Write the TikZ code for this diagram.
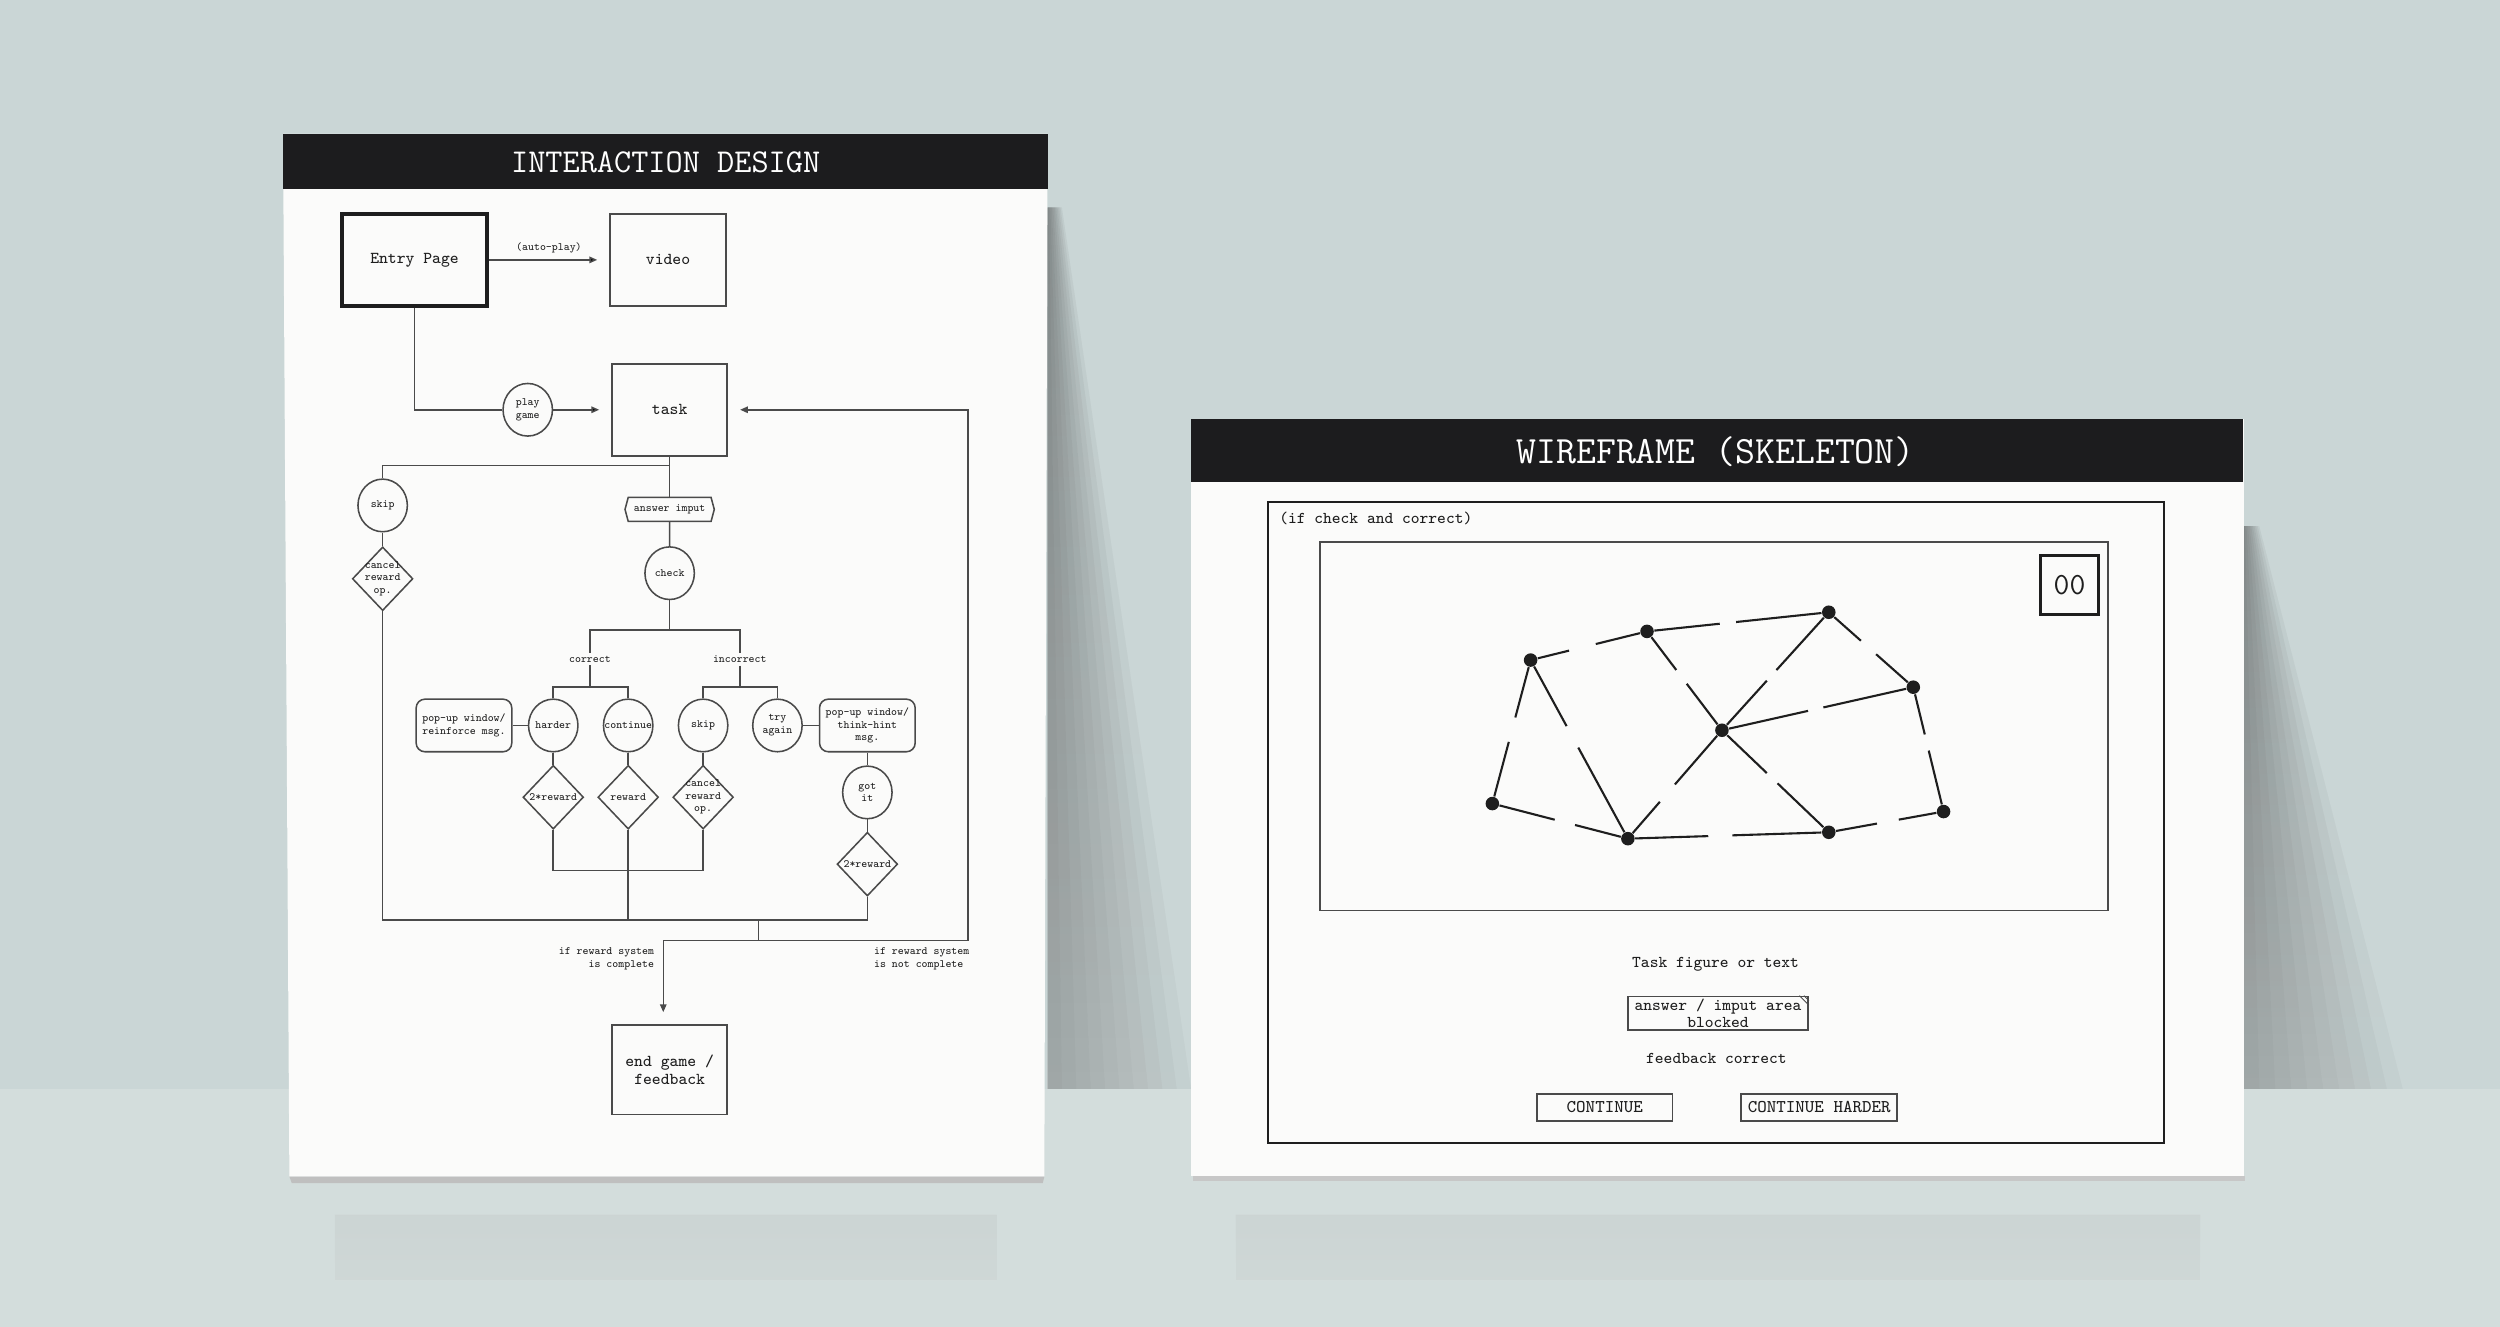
\documentclass[tikz,border=0pt]{standalone}
\usepackage{fontspec}
\usetikzlibrary{shapes.geometric,shapes.symbols,arrows.meta,calc}

\definecolor{wall}{HTML}{CAD6D6}
\definecolor{floor}{HTML}{D3DDDC}
\definecolor{shade}{HTML}{6F7F82}
\definecolor{paper}{HTML}{FBFBFA}
\definecolor{bar}{HTML}{1C1C1E}
\definecolor{ink}{HTML}{1E1E1E}
\definecolor{rule}{HTML}{4A4A4A}

\newcommand\headtxt{\ttfamily\fontsize{11.9}{13}\selectfont}
\newcommand\wireheadtxt{\ttfamily\fontsize{13.8}{15}\selectfont}
\newcommand\boxtxt{\ttfamily\fontsize{5.95}{6.5}\selectfont}
\newcommand\smalltxt{\ttfamily\fontsize{4}{4.5}\selectfont}
\newcommand\wiretxt{\ttfamily\fontsize{5.9}{6.3}\selectfont}
\newcommand\btntxt{\ttfamily\fontsize{6.4}{7}\selectfont}
\newcommand\countertxt{\ttfamily\fontsize{11}{12}\selectfont}

% one link of the task figure, broken between #3 and #4
\newcommand\gapedge[4]{\draw[wire] (#1) -- ($(#1)!#3!(#2)$) ($(#1)!#4!(#2)$) -- (#2);}

\tikzset{
	flow/.style={draw=rule, line width=0.55pt},
	arr/.style={flow, -{Triangle[length=2.8pt,width=2.3pt]}, shorten >=4.3pt},
	screen/.style={draw=rule, line width=0.7pt, fill=paper, minimum width=1.44cm, minimum height=1.16cm, inner sep=0pt, align=center, font=\boxtxt, text=ink},
	ring/.style={ellipse, draw=rule, line width=0.55pt, fill=paper, minimum width=0.62cm, minimum height=0.66cm, inner sep=0pt, label={[font=\smalltxt, text=ink, align=center]center:#1}},
	prize/.style={diamond, draw=rule, line width=0.55pt, fill=paper, minimum width=0.76cm, minimum height=0.8cm, inner sep=0pt, label={[font=\smalltxt, text=ink, align=center]center:#1}},
	popup/.style={rectangle, rounded corners=0.11cm, draw=rule, line width=0.55pt, fill=paper, minimum width=1.2cm, minimum height=0.66cm, inner sep=0pt, align=center, font=\smalltxt, text=ink},
	inputbox/.style={signal, signal to=west and east, signal pointer angle=150, draw=rule, line width=0.55pt, fill=paper, minimum width=1.12cm, minimum height=0.3cm, inner sep=1pt, font=\smalltxt, text=ink},
	note/.style={font=\smalltxt, text=ink, inner sep=0.8pt},
	dot/.style={circle, fill=ink, inner sep=0pt, minimum size=0.17cm},
	wire/.style={draw=ink, line width=0.75pt},
	wtext/.style={font=\wiretxt, text=ink, inner sep=0pt},
	btn/.style={draw=rule, line width=0.6pt, fill=paper, minimum height=0.34cm, inner sep=0pt, font=\btntxt, text=ink}
}

\begin{document}
\begin{tikzpicture}[x=0.02cm, y=-0.02cm]
	\useasboundingbox (0,0) rectangle (1568,832);
	% room
	\fill[wall] (0,0) rectangle (1568,683);
	\fill[floor] (0,683) rectangle (1568,832);
	\foreach \w in {9,18,...,90}
		\fill[shade, opacity=0.03] (657,130) -- (657+\w*0.1,130) -- (657+\w,683) -- (657,683) -- cycle;
	\foreach \w in {10,20,...,100}
		\fill[shade, opacity=0.03] (1407,330) -- (1407+\w*0.1,330) -- (1407+\w,683) -- (1407,683) -- cycle;
	\fill[shade, opacity=0.025] (210,762) rectangle (625,803);
	\fill[shade, opacity=0.025] (775,762) rectangle (1380,803);

	% left sheet
	\fill[paper] (177.5,84) -- (657,84) -- (655,738) -- (181.5,738) -- cycle;
	\fill[black!25] (181.5,738) -- (655,738) -- (654,742) -- (183,742) -- cycle;
	\fill[bar] (177.5,84) rectangle (657,118.6);
	\node[font=\headtxt, text=white] (title) at (417.5,102) {INTERACTION DESIGN};

	% right sheet
	\fill[paper] (747,263) rectangle (1407.5,737.5);
	\fill[black!22] (748,737.5) rectangle (1408,741);
	\fill[bar] (747,263) rectangle (1406.5,302);
	\node[font=\wireheadtxt, text=white] (wtitle) at (1076,283.5) {WIREFRAME (SKELETON)};

	% flow chart
	\node[screen, draw=ink, line width=1.4pt, minimum width=1.81cm] (entry) at (260,163) {Entry Page};
	\node[screen, minimum width=1.45cm] (video) at (419,163) {video};
	\node[ring={play\\game}] (play) at (331,257) {};
	\node[screen] (task) at (420,257) {task};
	\node[ring=skip] (skipa) at (240,317) {};
	\node[prize={cancel\\reward\\op.}] (cancela) at (240,363) {};
	\node[inputbox] (answer) at (420,319.5) {answer imput};
	\node[ring=check] (check) at (420,359.5) {};
	\node[note] (correct) at (370,413.5) {correct};
	\node[note] (incorrect) at (464,413.5) {incorrect};
	\node[popup] (reinforce) at (291,455) {pop-up window/\\reinforce msg.};
	\node[ring=harder] (harder) at (347,455) {};
	\node[ring=continue] (continue) at (394,455) {};
	\node[ring=skip] (skipb) at (441,455) {};
	\node[ring={try\\again}] (again) at (487.6,455) {};
	\node[popup] (hint) at (544,455) {pop-up window/\\think-hint\\msg.};
	\node[prize={2*reward}] (double) at (347,500) {};
	\node[prize=reward] (reward) at (394,500) {};
	\node[prize={cancel\\reward\\op.}] (cancelb) at (441,500) {};
	\node[ring={got\\it}] (gotit) at (544,497) {};
	\node[prize={2*reward}] (doubleb) at (544,542) {};
	\node[screen, minimum height=1.12cm] (endgame) at (420,671) {end game /\\feedback};
	\node[note, anchor=north east, align=right] (complete) at (412,592.5) {if reward system\\is complete};
	\node[note, anchor=north west, align=left] (notcomplete) at (546.5,592.5) {if reward system\\is not complete};

	\coordinate (split) at (420,292);
	\coordinate (fork) at (420,395);
	\coordinate (forkc) at (370,431);
	\coordinate (forki) at (464,431);
	\coordinate (gather) at (394,546);
	\coordinate (collect) at (475.6,577);
	\coordinate (exit) at (475.6,590);
	\coordinate (done) at (416,590);
	\coordinate (back) at (607,590);

	\path[arr] (entry) edge node[note, above=1.2pt]{(auto-play)} (video);
	\draw[flow] (entry.south) |- (play.west);
	\path[arr] (play) edge (task);
	\draw[flow] (task.south) -- (answer.north);
	\draw[flow] (split) -| (skipa.north);
	\draw[flow] (skipa) -- (cancela);
	\draw[flow] (answer) -- (check);
	\draw[flow] (check.south) -- (fork) -| (correct.north);
	\draw[flow] (fork) -| (incorrect.north);
	\draw[flow] (correct.south) -- (forkc) -| (harder.north);
	\draw[flow] (forkc) -| (continue.north);
	\draw[flow] (incorrect.south) -- (forki) -| (skipb.north);
	\draw[flow] (forki) -| (again.north);
	\draw[flow] (reinforce) -- (harder);
	\draw[flow] (again) -- (hint);
	\draw[flow] (harder) -- (double);
	\draw[flow] (continue) -- (reward);
	\draw[flow] (skipb) -- (cancelb);
	\draw[flow] (hint) -- (gotit);
	\draw[flow] (gotit) -- (doubleb);
	\draw[flow] (double.south) |- (gather) -| (cancelb.south);
	\draw[flow] (reward.south) -- (reward.south |- collect);
	\draw[flow] (cancela.south) |- (collect) -| (doubleb.south);
	\draw[arr] (collect) |- (done) -- (done |- endgame.north);
	\draw[arr] (exit) -- (back) |- (task.east);

	% wireframe
	\draw[draw=ink, line width=0.75pt] (795,315) rectangle (1357,717);
	\node[wtext, anchor=west] (state) at (802,325) {(if check and correct)};
	\draw[draw=rule, line width=0.55pt] (828,340) rectangle (1322,571);
	\node[draw=ink, line width=1.1pt, minimum width=0.72cm, minimum height=0.74cm, inner sep=0pt, font=\countertxt, text=ink] (count) at (1298,367) {00};

	\node[dot] (a) at (960,414) {};
	\node[dot] (b) at (1033,396) {};
	\node[dot] (c) at (1147,384) {};
	\node[dot] (d) at (1200,431) {};
	\node[dot] (e) at (1080,458) {};
	\node[dot] (f) at (936,504) {};
	\node[dot] (g) at (1021,526) {};
	\node[dot] (h) at (1147,522) {};
	\node[dot] (i) at (1219,509) {};
	\gapedge{a}{b}{0.33}{0.56}
	\gapedge{b}{c}{0.40}{0.49}
	\gapedge{c}{d}{0.38}{0.56}
	\gapedge{a}{f}{0.40}{0.57}
	\gapedge{a}{g}{0.37}{0.49}
	\gapedge{b}{e}{0.39}{0.53}
	\gapedge{c}{e}{0.49}{0.58}
	\gapedge{d}{e}{0.47}{0.55}
	\gapedge{d}{i}{0.38}{0.51}
	\gapedge{e}{g}{0.50}{0.66}
	\gapedge{e}{h}{0.42}{0.52}
	\gapedge{f}{g}{0.46}{0.61}
	\gapedge{g}{h}{0.40}{0.52}
	\gapedge{h}{i}{0.42}{0.61}

	\node[wtext] (taskfig) at (1076,605) {Task figure or text};
	\node[draw=rule, line width=0.6pt, fill=paper, minimum width=2.26cm, minimum height=0.42cm, inner sep=0pt, align=center, font=\wiretxt, text=ink] (area) at (1077.5,635.5) {answer / imput area\\blocked};
	\draw[draw=rule, line width=0.3pt] ([xshift=-3.4pt]area.north east) -- ([yshift=-3.4pt]area.north east);
	\draw[draw=rule, line width=0.3pt] ([xshift=-1.8pt]area.north east) -- ([yshift=-1.8pt]area.north east);
	\node[wtext] (fb) at (1076.5,664) {feedback correct};
	\node[btn, minimum width=1.7cm] (cont) at (1006.5,694.5) {CONTINUE};
	\node[btn, minimum width=1.96cm] (harderbtn) at (1141,694.5) {CONTINUE HARDER};
\end{tikzpicture}
\end{document}
